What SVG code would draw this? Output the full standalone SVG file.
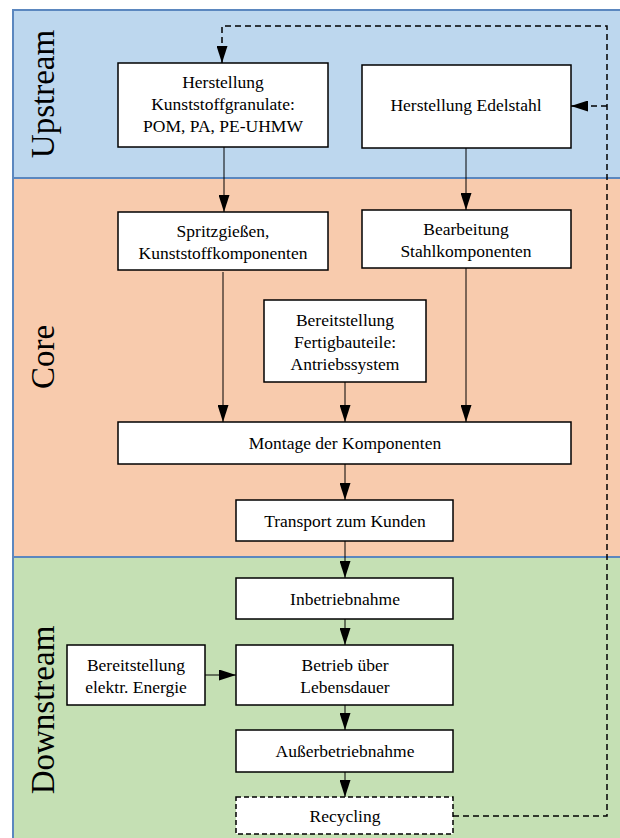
<svg xmlns="http://www.w3.org/2000/svg" width="620" height="838" viewBox="0 0 620 838">
<style>
.box{fill:#fff;stroke:#000;stroke-width:1.5}
.dbox{fill:#fff;stroke:#000;stroke-width:1.5;stroke-dasharray:5,3}
.t{font-size:17.5px;fill:#000;text-anchor:middle}
.lane{font-size:33px;fill:#000;text-anchor:middle}
.c{stroke:#000;stroke-width:1;fill:none}
.d{stroke:#000;stroke-width:1.5;fill:none;stroke-dasharray:6,4}
</style>
<defs>
<marker id="ah" markerWidth="17" markerHeight="11" refX="17" refY="5.5" orient="auto" markerUnits="userSpaceOnUse">
<path d="M0,0 L17,5.5 L0,11 Z" fill="#000"/>
</marker>
</defs>
<g font-family="'Liberation Serif', 'Times New Roman', serif">
<g id="lanes">
<rect x="13" y="10" width="612" height="168" fill="#BDD7EE" stroke="#5B87BF" stroke-width="2"/>
<rect x="13" y="178" width="612" height="379" fill="#F8CBAD" stroke="#5B87BF" stroke-width="2"/>
<rect x="13" y="557" width="612" height="285" fill="#C5E0B4" stroke="#5B87BF" stroke-width="2"/>
<text class="lane" transform="translate(54,94) rotate(-90)">Upstream</text>
<text class="lane" transform="translate(54,357) rotate(-90)">Core</text>
<text class="lane" transform="translate(54,710) rotate(-90)">Downstream</text>
</g>
<g id="n1"><rect class="box" x="118" y="63" width="210" height="84"/>
<text class="t" x="223" y="88">Herstellung</text><text class="t" x="223" y="110">Kunststoffgranulate:</text><text class="t" x="223" y="132">POM, PA, PE-UHMW</text></g>
<g id="n2"><rect class="box" x="362" y="65" width="209" height="83"/>
<text class="t" x="466" y="111">Herstellung Edelstahl</text></g>
<g id="n3"><rect class="box" x="118" y="212" width="210" height="58"/>
<text class="t" x="223" y="237">Spritzgießen,</text><text class="t" x="223" y="259">Kunststoffkomponenten</text></g>
<g id="n4"><rect class="box" x="362" y="210" width="209" height="58"/>
<text class="t" x="466" y="235">Bearbeitung</text><text class="t" x="466" y="257">Stahlkomponenten</text></g>
<g id="n5"><rect class="box" x="264" y="300" width="162" height="82"/>
<text class="t" x="345" y="326">Bereitstellung</text><text class="t" x="345" y="348">Fertigbauteile:</text><text class="t" x="345" y="370">Antriebssystem</text></g>
<g id="n6"><rect class="box" x="118" y="422" width="453" height="42"/>
<text class="t" x="345" y="449">Montage der Komponenten</text></g>
<g id="n7"><rect class="box" x="236" y="500" width="217" height="41"/>
<text class="t" x="345" y="527">Transport zum Kunden</text></g>
<g id="n8"><rect class="box" x="236" y="578" width="217" height="41"/>
<text class="t" x="345" y="605">Inbetriebnahme</text></g>
<g id="n9"><rect class="box" x="236" y="645" width="217" height="60"/>
<text class="t" x="345" y="671">Betrieb über</text><text class="t" x="345" y="693">Lebensdauer</text></g>
<g id="n10"><rect class="box" x="67" y="645" width="138" height="60"/>
<text class="t" x="136" y="671">Bereitstellung</text><text class="t" x="136" y="693">elektr. Energie</text></g>
<g id="n11"><rect class="box" x="236" y="730" width="217" height="42"/>
<text class="t" x="345" y="757">Außerbetriebnahme</text></g>
<g id="n12"><rect class="dbox" x="236" y="797" width="217" height="37"/>
<text class="t" x="345" y="822">Recycling</text></g>
</g>
<g id="connectors">
<line class="c" x1="224" y1="147" x2="224" y2="212" marker-end="url(#ah)"/>
<line class="c" x1="466" y1="148" x2="466" y2="210" marker-end="url(#ah)"/>
<line class="c" x1="223" y1="272" x2="223" y2="422" marker-end="url(#ah)"/>
<line class="c" x1="345" y1="382" x2="345" y2="422" marker-end="url(#ah)"/>
<line class="c" x1="466" y1="268" x2="466" y2="422" marker-end="url(#ah)"/>
<line class="c" x1="345" y1="464" x2="345" y2="500" marker-end="url(#ah)"/>
<line class="c" x1="345" y1="541" x2="345" y2="578" marker-end="url(#ah)"/>
<line class="c" x1="345" y1="619" x2="345" y2="645" marker-end="url(#ah)"/>
<line class="c" x1="205" y1="675" x2="236" y2="675" marker-end="url(#ah)"/>
<line class="c" x1="345" y1="705" x2="345" y2="730" marker-end="url(#ah)"/>
<line class="c" x1="345" y1="772" x2="345" y2="797" marker-end="url(#ah)"/>
<path class="d" d="M453,816 H607 V26 H222 V63" marker-end="url(#ah)"/>
<path class="d" d="M607,106 H571" marker-end="url(#ah)"/>
</g>
</svg>
